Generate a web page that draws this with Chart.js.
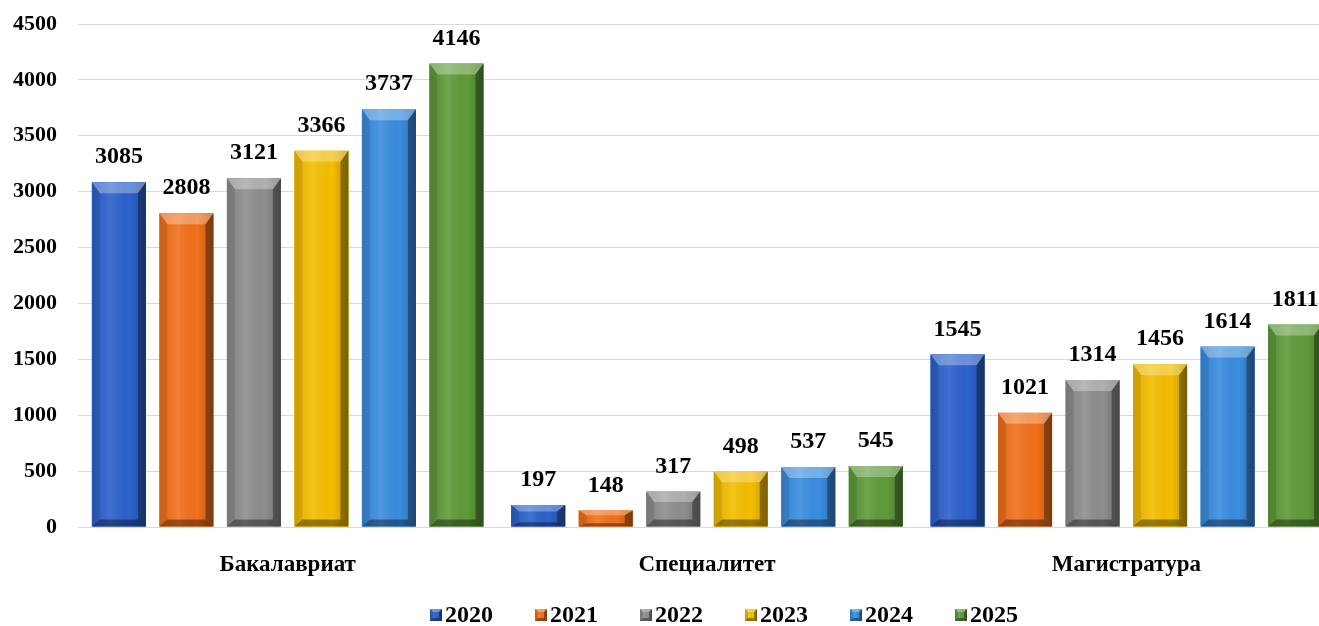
<!DOCTYPE html>
<html>
<head>
<meta charset="utf-8">
<script src="https://cdn.jsdelivr.net/npm/chart.js@4"></script>
<style>
html,body{margin:0;padding:0;background:#fff;overflow:hidden;width:1319px;height:626px;}
#wrap{width:1336px;height:626px;}
</style>
</head>
<body>
<div id="wrap"><canvas id="c" width="1336" height="626"></canvas></div>
<script>
const categories = ['Бакалавриат', 'Специалитет', 'Магистратура'];
const years = ['2020', '2021', '2022', '2023', '2024', '2025'];
const v2020 = [3085, 197, 1545];
const v2021 = [2808, 148, 1021];
const v2022 = [3121, 317, 1314];
const v2023 = [3366, 498, 1456];
const v2024 = [3737, 537, 1614];
const v2025 = [4146, 545, 1811];
const yTicks = [0, 500, 1000, 1500, 2000, 2500, 3000, 3500, 4000, 4500];
const colors = ['#2C62CC', '#F2711C', '#8E8E8E', '#F4BE00', '#3B8DE0', '#5F9B3A'];

const FONT = "'Liberation Serif', 'Times New Roman', serif";
const series = [v2020, v2021, v2022, v2023, v2024, v2025];

function shade(ctx, pts, style) {
  ctx.beginPath();
  ctx.moveTo(pts[0][0], pts[0][1]);
  for (let i = 1; i < pts.length; i++) ctx.lineTo(pts[i][0], pts[i][1]);
  ctx.closePath();
  ctx.fillStyle = style;
  ctx.fill();
}

function bevelRect(ctx, l, t, r, btm, color, bh, bvT, bvB) {
  ctx.fillStyle = color;
  ctx.fillRect(l, t, r - l, btm - t);
  const g = ctx.createLinearGradient(l, 0, r, 0);
  g.addColorStop(0, 'rgba(0,0,0,0.06)');
  g.addColorStop(0.35, 'rgba(255,255,255,0.10)');
  g.addColorStop(0.7, 'rgba(0,0,0,0.0)');
  g.addColorStop(1, 'rgba(0,0,0,0.22)');
  ctx.fillStyle = g;
  ctx.fillRect(l, t, r - l, btm - t);
  shade(ctx, [[l, t], [r, t], [r - bh, t + bvT], [l + bh, t + bvT]], 'rgba(255,255,255,0.30)');
  shade(ctx, [[r, t], [r, btm], [r - bh, btm - bvB], [r - bh, t + bvT]], 'rgba(0,0,0,0.35)');
  shade(ctx, [[l, t], [l + bh, t + bvT], [l + bh, btm - bvB], [l, btm]], 'rgba(0,0,0,0.10)');
  shade(ctx, [[l, btm], [l + bh, btm - bvB], [r - bh, btm - bvB], [r, btm]], 'rgba(0,0,0,0.38)');
}

const bevelPlugin = {
  id: 'bevel',
  afterDatasetsDraw(chart) {
    const ctx = chart.ctx;
    ctx.save();
    chart.data.datasets.forEach((ds, di) => {
      const meta = chart.getDatasetMeta(di);
      meta.data.forEach((bar, i) => {
        const p = bar.getProps(['x', 'y', 'base', 'width'], true);
        const l = p.x - p.width / 2, r = p.x + p.width / 2;
        const t = Math.min(p.y, p.base), btm = Math.max(p.y, p.base);
        const h = btm - t;
        const bv = Math.min(11, h * 0.3);
        bevelRect(ctx, l, t, r, btm, ds.backgroundColor, 8, bv, Math.min(7, h * 0.2));
        ctx.fillStyle = '#000';
        ctx.font = 'bold 24px ' + FONT;
        ctx.textAlign = 'center';
        ctx.textBaseline = 'middle';
        ctx.fillText(String(ds.data[i]), p.x, t - 25);
      });
    });
    ctx.restore();
  }
};

const legendPlugin = {
  id: 'customLegend',
  afterDraw(chart) {
    const ctx = chart.ctx;
    ctx.save();
    ctx.font = 'bold 24px ' + FONT;
    ctx.textBaseline = 'middle';
    ctx.textAlign = 'left';
    const box = 12, gap = 3, spacing = 42;
    const widths = years.map(y => box + gap + ctx.measureText(y).width);
    const total = widths.reduce((a, b) => a + b, 0) + spacing * (years.length - 1);
    let x = 724 - total / 2;
    const cy = 615;
    years.forEach((y, i) => {
      bevelRect(ctx, x, cy - box / 2, x + box, cy + box / 2, colors[i], 3, 3, 3);
      ctx.fillStyle = '#000';
      ctx.fillText(y, x + box + gap, cy + 1);
      x += widths[i] + spacing;
    });
    ctx.restore();
  }
};

new Chart(document.getElementById('c'), {
  type: 'bar',
  data: {
    labels: categories,
    datasets: years.map((y, i) => ({
      label: y,
      data: series[i],
      backgroundColor: colors[i],
      borderWidth: 0,
      categoryPercentage: 0.966,
      barPercentage: 0.80
    }))
  },
  options: {
    responsive: false,
    animation: false,
    layout: { padding: { top: 24, left: 0, right: 0, bottom: 0 } },
    plugins: {
      legend: { display: false },
      tooltip: { enabled: false }
    },
    scales: {
      x: {
        grid: { display: false },
        border: { display: false },
        ticks: {
          color: '#000',
          font: { family: FONT, size: 23, weight: 'bold' },
          padding: 16
        },
        afterFit(s) { s.height = 99; s.paddingLeft = 0; s.paddingRight = 0; }
      },
      y: {
        min: 0,
        max: 4500,
        afterBuildTicks(s) { s.ticks = yTicks.map(v => ({ value: v })); },
        grid: { color: '#D9D9D9', lineWidth: 1, drawTicks: false },
        border: { display: false },
        ticks: {
          color: '#000',
          font: { family: FONT, size: 22, weight: 'bold' },
          padding: 21,
          callback: (v) => String(v)
        },
        afterFit(s) { s.width = 78; s.paddingTop = 0; s.paddingBottom = 0; }
      }
    }
  },
  plugins: [bevelPlugin, legendPlugin]
});
</script>
</body>
</html>
